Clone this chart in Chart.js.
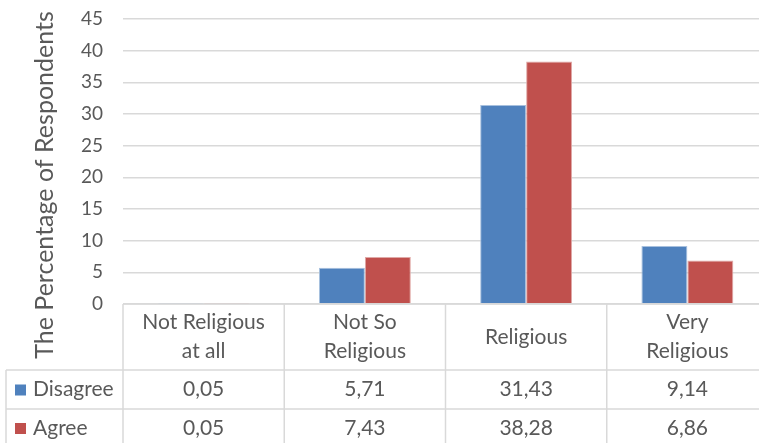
<!DOCTYPE html>
<html>
<head>
<meta charset="utf-8">
<script src="https://cdn.jsdelivr.net/npm/chart.js@4"></script>
<style>
  html, body { margin: 0; padding: 0; background: #fff; overflow: hidden; }
  #wrap { width: 770px; height: 443px; position: relative; }
</style>
</head>
<body>
<div id="wrap"><canvas id="chart"></canvas></div>
<script>
// chart data
const categories = [['Not Religious', 'at all'], ['Not So', 'Religious'], ['Religious'], ['Very', 'Religious']];
const seriesNames = ['Disagree', 'Agree'];
const disagree = [0.05, 5.71, 31.43, 9.14];
const agree = [0.05, 7.43, 38.28, 6.86];
const yTicks = [0, 5, 10, 15, 20, 25, 30, 35, 40, 45];
const yTitle = 'The Percentage of Respondents';

const colors = ['#4f81bd', '#c0504d'];
const textColor = '#595959';
const lineColor = '#d9d9d9';
const font = 'Lato, "Liberation Sans", sans-serif';

function fmt(v) {
    return v.toFixed(2).replace('.', ',');
}

// draws the data table under the plot, lined up with the x scale
const tablePlugin = {
    id: 'dataTable',
    afterDraw(chart) {
        const ctx = chart.ctx;
        const x = chart.scales.x;
        const area = chart.chartArea;
        const step = x.getPixelForValue(1) - x.getPixelForValue(0);
        const left = area.left;
        const right = chart.width - 1;
        const headTop = area.bottom;
        const row1 = headTop + 66;
        const row2 = row1 + 39;
        const bottom = chart.height;
        const legLeft = 6;

        ctx.save();
        ctx.strokeStyle = lineColor;
        ctx.lineWidth = 1.5;
        ctx.beginPath();
        ctx.moveTo(left, headTop); ctx.lineTo(right, headTop);
        ctx.moveTo(legLeft, row1); ctx.lineTo(right, row1);
        ctx.moveTo(legLeft, row2); ctx.lineTo(right, row2);
        ctx.moveTo(legLeft, row1); ctx.lineTo(legLeft, bottom);
        for (let i = 0; i < categories.length; i++) {
            const xl = x.getPixelForValue(i) - step / 2;
            ctx.moveTo(xl, headTop); ctx.lineTo(xl, bottom);
        }
        ctx.stroke();

        ctx.fillStyle = textColor;
        ctx.font = '21px ' + font;
        ctx.textAlign = 'center';
        ctx.textBaseline = 'middle';
        categories.forEach((c, i) => {
            const cx = x.getPixelForValue(i);
            const cy = (headTop + row1) / 2;
            const lh = 29;
            c.forEach((line, j) => {
                ctx.fillText(line, cx, cy + (j - (c.length - 1) / 2) * lh);
            });
        });

        const rows = [disagree, agree];
        const rowMid = [(row1 + row2) / 2, (row2 + bottom) / 2 + 2];
        rows.forEach((vals, r) => {
            ctx.textAlign = 'center';
            ctx.fillStyle = textColor;
            vals.forEach((v, i) => {
                ctx.fillText(fmt(v), x.getPixelForValue(i), rowMid[r]);
            });
            ctx.fillStyle = colors[r];
            ctx.fillRect(15, rowMid[r] - 5, 11, 11);
            ctx.fillStyle = textColor;
            ctx.textAlign = 'left';
            ctx.fillText(seriesNames[r], 33, rowMid[r]);
        });

        // axis title, centred on plot + table like the original
        ctx.save();
        ctx.translate(45, 185);
        ctx.rotate(-Math.PI / 2);
        ctx.textAlign = 'center';
        ctx.font = '25px ' + font;
        ctx.fillStyle = textColor;
        ctx.fillText(yTitle, 0, 0);
        ctx.restore();
        ctx.restore();
    }
};

new Chart(document.getElementById('chart'), {
    type: 'bar',
    data: {
        labels: categories.map(c => c.join(' ')),
        datasets: [
            { label: seriesNames[0], data: disagree, backgroundColor: colors[0], borderColor: '#a7c0de', borderWidth: 1 },
            { label: seriesNames[1], data: agree, backgroundColor: colors[1], borderColor: '#e0a9a7', borderWidth: 1 }
        ]
    },
    options: {
        responsive: true,
        maintainAspectRatio: false,
        animation: false,
        layout: { padding: { top: 19, right: 2, bottom: 139, left: 0 } },
        plugins: { legend: { display: false }, tooltip: { enabled: false } },
        datasets: { bar: { categoryPercentage: 0.57, barPercentage: 1 } },
        scales: {
            x: { display: false },
            y: {
                min: 0,
                max: 45,
                afterBuildTicks: (s) => { s.ticks = yTicks.map(v => ({ value: v })); },
                afterFit: (s) => { s.width = 123; s.paddingTop = 0; s.paddingBottom = 0; },
                border: { display: false },
                grid: { color: lineColor, lineWidth: 1.5, drawTicks: false },
                ticks: { color: textColor, font: { family: font, size: 19 }, padding: 20 }
            }
        }
    },
    plugins: [tablePlugin]
});
</script>
</body>
</html>
